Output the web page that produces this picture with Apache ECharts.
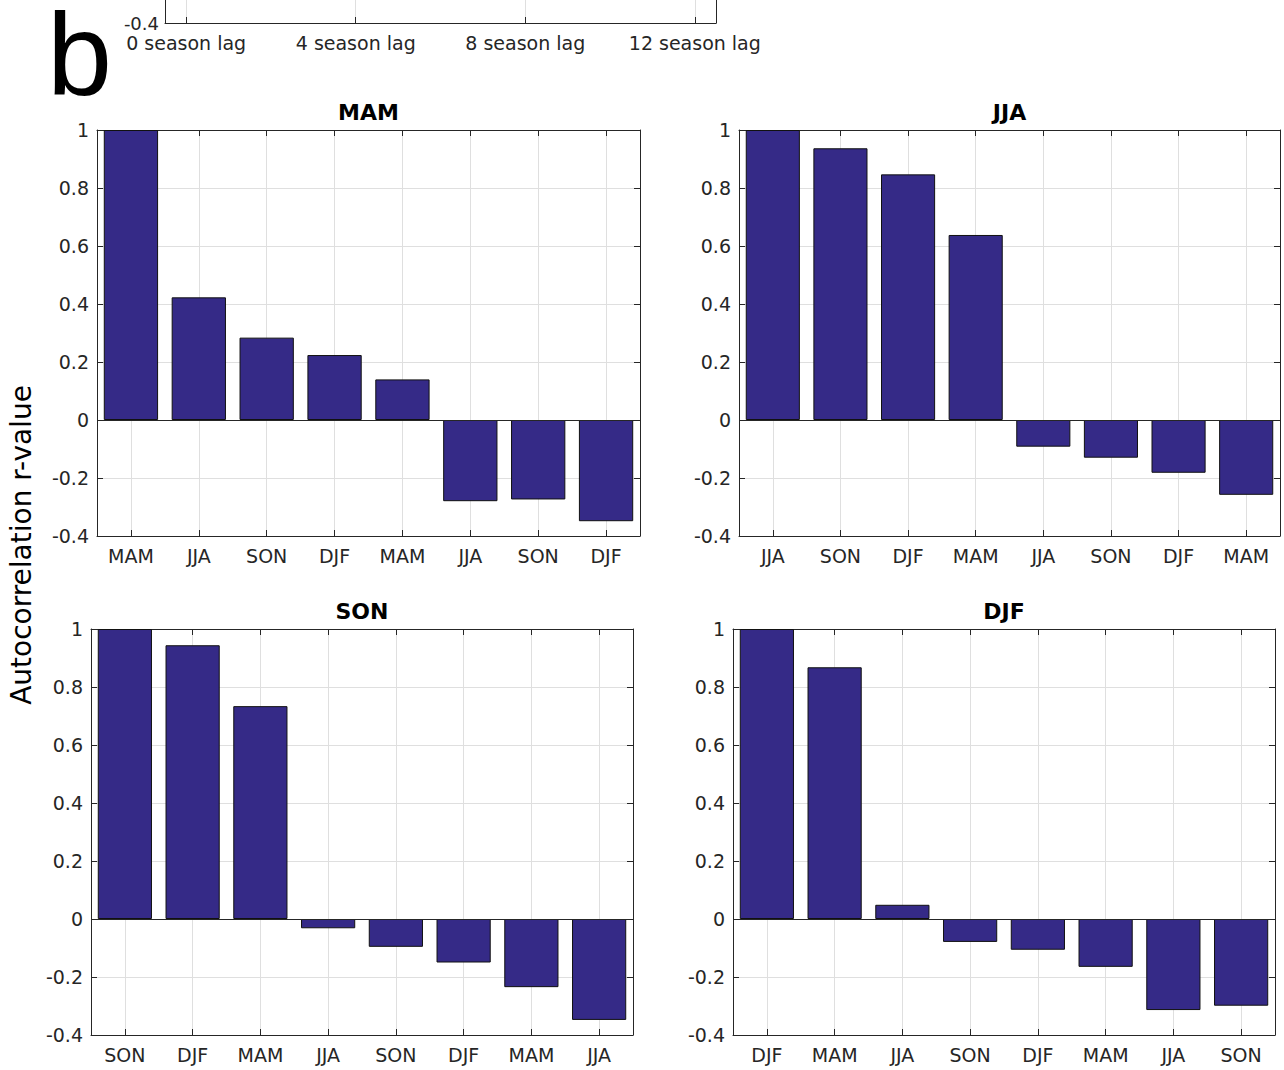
<!DOCTYPE html>
<html><head><meta charset="utf-8">
<script src="https://cdn.jsdelivr.net/npm/echarts@6/dist/echarts.min.js"></script>
<style>html,body{margin:0;padding:0;background:#fff}#c{width:1284px;height:1070px}</style>
</head><body><div id="c"></div>
<script>
// ---- data ----
const panelTitles = ['MAM', 'JJA', 'SON', 'DJF'];
const catsMAM = ['MAM', 'JJA', 'SON', 'DJF', 'MAM', 'JJA', 'SON', 'DJF'];
const catsJJA = ['JJA', 'SON', 'DJF', 'MAM', 'JJA', 'SON', 'DJF', 'MAM'];
const catsSON = ['SON', 'DJF', 'MAM', 'JJA', 'SON', 'DJF', 'MAM', 'JJA'];
const catsDJF = ['DJF', 'MAM', 'JJA', 'SON', 'DJF', 'MAM', 'JJA', 'SON'];
const valsMAM = [1.0, 0.423, 0.284, 0.224, 0.140, -0.280, -0.274, -0.349];
const valsJJA = [1.0, 0.937, 0.847, 0.638, -0.092, -0.130, -0.182, -0.258];
const valsSON = [1.0, 0.944, 0.734, -0.032, -0.096, -0.150, -0.235, -0.348];
const valsDJF = [1.0, 0.868, 0.049, -0.079, -0.106, -0.165, -0.314, -0.299];
const yMin = -0.4, yMax = 1, yStep = 0.2;
const topLagCats = ['0', '1', '2', '3', '4', '5', '6', '7', '8', '9', '10', '11', '12'];
const topLagSuffix = ' season lag';
const yTitle = 'Autocorrelation r-value';
const panelLetter = 'b';

// ---- layout / style ----
const FONT = '"DejaVu Sans", sans-serif';
const AX = '#262626';
const GRIDC = '#dfdfdf';
const BAR = '#352a87';
const panels = [
  { title: panelTitles[0], cats: catsMAM, vals: valsMAM, left: 97, top: 130, width: 543, height: 406 },
  { title: panelTitles[1], cats: catsJJA, vals: valsJJA, left: 739, top: 130, width: 541, height: 406 },
  { title: panelTitles[2], cats: catsSON, vals: valsSON, left: 91, top: 629, width: 542, height: 406 },
  { title: panelTitles[3], cats: catsDJF, vals: valsDJF, left: 733, top: 629, width: 542, height: 406 }
];

const grid = [], xAxis = [], yAxis = [], series = [], graphic = [];
const auxCats = n => Array.from({ length: n }, (_, i) => String(i));
const oddIdx = (i) => i % 2 === 1;
const fmtY = v => String(Math.round(v * 10) / 10);

panels.forEach((p, gi) => {
  grid.push({ left: p.left, top: p.top, width: p.width, height: p.height, outerBoundsMode: 'none' });
  const n = p.cats.length;
  const bx = xAxis.length;
  xAxis.push({
    type: 'category', gridIndex: gi, data: p.cats, position: 'bottom',
    axisLine: { show: true, onZero: false, lineStyle: { color: AX, width: 1 } },
    axisTick: { show: false }, splitLine: { show: false },
    axisLabel: { show: true, interval: 0, color: AX, fontSize: 19, fontFamily: FONT, margin: 10 }
  });
  xAxis.push({
    type: 'category', gridIndex: gi, data: auxCats(2 * n + 1), boundaryGap: false, position: 'bottom',
    axisLine: { show: false, onZero: false }, axisLabel: { show: false },
    axisTick: { show: true, inside: true, length: 6, interval: oddIdx, lineStyle: { color: AX } },
    splitLine: { show: true, interval: oddIdx, lineStyle: { color: GRIDC, width: 1 } }
  });
  xAxis.push({
    type: 'category', gridIndex: gi, data: auxCats(2 * n + 1), boundaryGap: false, position: 'top',
    axisLine: { show: true, onZero: false, lineStyle: { color: AX, width: 1 } }, axisLabel: { show: false },
    axisTick: { show: true, inside: true, length: 6, interval: oddIdx, lineStyle: { color: AX } },
    splitLine: { show: false }
  });
  const ly = yAxis.length;
  yAxis.push({
    type: 'value', gridIndex: gi, min: yMin, max: yMax, interval: yStep, position: 'left',
    axisLine: { show: true, lineStyle: { color: AX, width: 1 } },
    axisTick: { show: true, inside: true, length: 6, lineStyle: { color: AX } },
    axisLabel: { color: AX, fontSize: 19, fontFamily: FONT, margin: 8, formatter: fmtY },
    splitLine: { show: true, lineStyle: { color: GRIDC, width: 1 } }
  });
  yAxis.push({
    type: 'value', gridIndex: gi, min: yMin, max: yMax, interval: yStep, position: 'right',
    axisLine: { show: true, lineStyle: { color: AX, width: 1 } },
    axisTick: { show: true, inside: true, length: 6, lineStyle: { color: AX } },
    axisLabel: { show: false }, splitLine: { show: false }
  });
  series.push({
    type: 'bar', xAxisIndex: bx, yAxisIndex: ly, data: p.vals, barWidth: '80%',
    itemStyle: { color: BAR, borderColor: '#111', borderWidth: 1 },
    markLine: { silent: true, symbol: 'none', label: { show: false },
      lineStyle: { color: AX, width: 1, type: 'solid' }, data: [{ yAxis: 0 }] }
  });
  graphic.push({
    type: 'text', x: p.left + p.width / 2, y: p.top - 18,
    style: { text: p.title, font: 'bold 22px ' + FONT, fill: '#000', textAlign: 'center', textVerticalAlign: 'middle' }
  });
});

// clipped panel above (only its bottom edge is visible)
const tg = grid.length;
const topTickIdx = i => i % 2 === 1 && ((i - 1) / 2) % 4 === 0;
grid.push({ left: 165, top: 23 - 406, width: 551, height: 406, outerBoundsMode: 'none' });
xAxis.push({
  type: 'category', gridIndex: tg, data: topLagCats, position: 'bottom',
  axisLine: { show: true, onZero: false, lineStyle: { color: AX, width: 1 } },
  axisTick: { show: false }, splitLine: { show: false },
  axisLabel: { show: true, interval: 3, color: AX, fontSize: 19, fontFamily: FONT, margin: 10,
    formatter: v => v + topLagSuffix }
});
xAxis.push({
  type: 'category', gridIndex: tg, data: auxCats(2 * topLagCats.length + 1), boundaryGap: false, position: 'bottom',
  axisLine: { show: false, onZero: false }, axisLabel: { show: false },
  axisTick: { show: true, inside: true, length: 6, interval: topTickIdx, lineStyle: { color: AX } },
  splitLine: { show: true, interval: topTickIdx, lineStyle: { color: GRIDC } }
});
yAxis.push({
  type: 'value', gridIndex: tg, min: yMin, max: yMax, interval: yStep, position: 'left',
  axisLine: { show: true, lineStyle: { color: AX, width: 1 } },
  axisTick: { show: false },
  axisLabel: { color: AX, fontSize: 18, fontFamily: FONT, margin: 6,
    formatter: v => (Math.abs(v - yMin) < 1e-9 ? fmtY(v) : '') },
  splitLine: { show: false }
});
yAxis.push({
  type: 'value', gridIndex: tg, min: yMin, max: yMax, interval: yStep, position: 'right',
  axisLine: { show: true, lineStyle: { color: AX, width: 1 } },
  axisTick: { show: false }, axisLabel: { show: false }, splitLine: { show: false }
});

graphic.push({
  type: 'text', x: 47, y: 54,
  style: { text: panelLetter, font: '117px "Liberation Sans", Arial, sans-serif', lineHeight: 90, fill: '#000', textAlign: 'left', textVerticalAlign: 'middle' }
});
graphic.push({
  type: 'text', x: 21, y: 545, rotation: Math.PI / 2,
  style: { text: yTitle, font: '28px ' + FONT, fill: '#000', textAlign: 'center', textVerticalAlign: 'middle' }
});

const chart = echarts.init(document.getElementById('c'), null, { renderer: 'svg' });
chart.setOption({ animation: false, backgroundColor: '#fff', grid, xAxis, yAxis, series, graphic });
</script></body></html>
